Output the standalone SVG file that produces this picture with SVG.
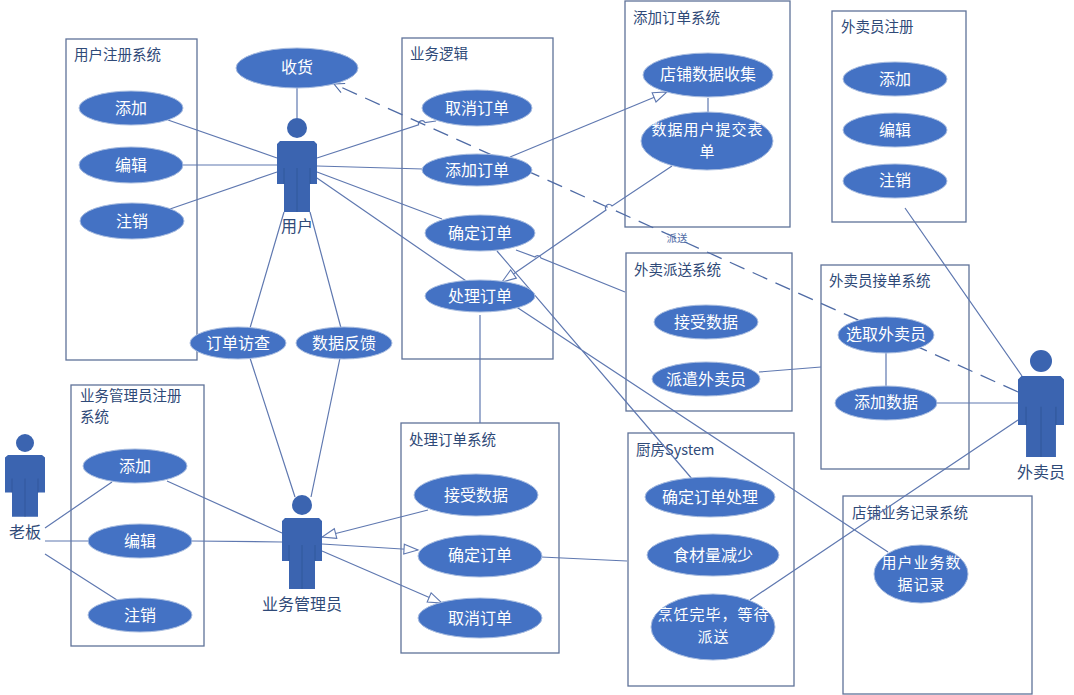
<svg xmlns="http://www.w3.org/2000/svg" width="1074" height="695" viewBox="0 0 1074 695">
<style>
text{font-family:"Noto Sans CJK SC","Noto Sans",sans-serif}
.box{fill:#fff;stroke:#5f7299;stroke-width:1.3}
.uc{fill:#4472c4;stroke:#a9bde0;stroke-width:1}
.t{fill:#fff;font-size:16px;text-anchor:middle}
.m{fill:#fff;font-size:15px;letter-spacing:1px;text-anchor:middle}
.b{fill:#2f4a78;font-size:14.500px}
.a{fill:#2f4a78;font-size:16px;text-anchor:middle}
.c{fill:none;stroke:#5f78b0;stroke-width:1.2}
.d{stroke-dasharray:16 9;stroke:#4f6ba5;stroke-width:1.3}
.actor{fill:#3b64b0}
.leg{fill:none;stroke:#2f5597;stroke-width:.8}
</style>
<defs>
<marker id="tri" markerWidth="20" markerHeight="14" refX="15" refY="6" orient="auto" markerUnits="userSpaceOnUse"><path d="M1 1L15 6L1 11Z" fill="#fff" stroke="#5f78b0" stroke-width="1.1"/></marker>
<marker id="open" markerWidth="14" markerHeight="14" refX="11" refY="6" orient="auto" markerUnits="userSpaceOnUse"><path d="M1 1L11 6L1 11" fill="none" stroke="#4f6ba5" stroke-width="1.1"/></marker>
<g id="fig"><path class="actor" d="M3 0H37L40 3V43H33V71H7V43H0V3Z"/><path class="leg" d="M7 27V43M33 27V43M20 27V71"/></g>
</defs>

<g id="sys-user"><rect class="box" x="66" y="39" width="131" height="321"/><text class="b" x="74" y="60">用户注册系统</text></g>
<g id="sys-logic"><rect class="box" x="402" y="38" width="151" height="321"/><text class="b" x="410" y="59">业务逻辑</text></g>
<g id="sys-addorder"><rect class="box" x="625" y="1" width="165" height="226"/><text class="b" x="633" y="23">添加订单系统</text></g>
<g id="sys-riderreg"><rect class="box" x="832" y="11" width="134" height="211"/><text class="b" x="841" y="32">外卖员注册</text></g>
<g id="sys-delivery"><rect class="box" x="626" y="253" width="166" height="158"/><text class="b" x="634" y="275">外卖派送系统</text></g>
<g id="sys-riderorder"><rect class="box" x="821" y="265" width="148" height="204"/><text class="b" x="829" y="286">外卖员接单系统</text></g>
<g id="sys-adminreg"><rect class="box" x="71" y="385" width="133" height="261"/><text class="b" x="80" y="401">业务管理员注册</text><text class="b" x="80" y="422">系统</text></g>
<g id="sys-process"><rect class="box" x="401" y="423" width="158" height="230"/><text class="b" x="409" y="445">处理订单系统</text></g>
<g id="sys-kitchen"><rect class="box" x="628" y="433" width="166" height="253"/><text class="b" x="636" y="455">厨房System</text></g>
<g id="sys-record"><rect class="box" x="843" y="496" width="189" height="198"/><text class="b" x="852" y="518">店铺业务记录系统</text></g>

<g id="connectors">
<path class="c" d="M297 88V118"/>
<path class="c" d="M168 120L277 158M183 165H277M170 209L277 172"/>
<path class="c" d="M317 158L418.500 124.800A3.500 3.500 0 0 1 425 122.500L436 121"/>
<path class="c" d="M317 166L423 169M317 172L442 219M317 178L472 285"/>
<path class="c" d="M284 212L250 328M310 212L341 328M250 358L295 497M340 358L311 497"/>
<path class="c d" marker-end="url(#open)" d="M1018 392L334 84"/>
<path class="c" marker-end="url(#tri)" d="M510 157L667 92"/>
<path class="c" d="M708 98V112"/>
<path class="c" marker-end="url(#tri)" d="M672 166L612 206A3.500 3.500 0 0 0 606 210L502 282"/>
<path class="c" d="M516 250L535 257A3.500 3.500 0 0 1 541 258L625 292"/>
<path class="c" d="M497 251L693 480M515 306L888 552M480 315V423"/>
<path class="c" d="M759 372L821 367M886 353V388M937 403H1018M905 208L1022 376M750 600L1018 420M541 557L627 561"/>
<path class="c" marker-end="url(#tri)" d="M428 510L322 537"/>
<path class="c" marker-end="url(#tri)" d="M322 544L418 550"/>
<path class="c" marker-end="url(#tri)" d="M322 551L442 603"/>
<path class="c" d="M167 481L282 533M192 541L282 542M45 528L112 482M45 541H88M45 554L117 600"/>
<text x="677" y="242" font-size="10.500" fill="#4f6ba5" text-anchor="middle">派送</text>
</g>

<g id="actor-user"><circle class="actor" cx="297" cy="128" r="10"/><use href="#fig" x="277" y="141"/><text class="a" x="297" y="232">用户</text></g>
<g id="actor-admin"><circle class="actor" cx="302" cy="505" r="10"/><use href="#fig" x="282" y="518"/><text class="a" x="302" y="610">业务管理员</text></g>
<g id="actor-boss"><circle class="actor" cx="25" cy="443" r="9"/><use href="#fig" transform="translate(5 455) scale(1 .87)"/><text class="a" x="25" y="538">老板</text></g>
<g id="actor-rider"><circle class="actor" cx="1041" cy="361" r="11"/><use href="#fig" transform="translate(1018 376) scale(1.150 1.140)"/><text class="a" x="1041" y="478">外卖员</text></g>

<g id="uc-receive"><ellipse class="uc" cx="297" cy="68" rx="61" ry="20"/><text class="t" x="297" y="73">收货</text></g>
<g id="uc-u-add"><ellipse class="uc" cx="131" cy="108" rx="52" ry="17"/><text class="t" x="131" y="114">添加</text></g>
<g id="uc-u-edit"><ellipse class="uc" cx="131" cy="165" rx="52" ry="18"/><text class="t" x="131" y="171">编辑</text></g>
<g id="uc-u-del"><ellipse class="uc" cx="132" cy="221" rx="52" ry="18"/><text class="t" x="132" y="227">注销</text></g>
<g id="uc-cancel"><ellipse class="uc" cx="477" cy="108" rx="55" ry="18"/><text class="t" x="477" y="114">取消订单</text></g>
<g id="uc-add"><ellipse class="uc" cx="477" cy="170" rx="55" ry="16"/><text class="t" x="477" y="176">添加订单</text></g>
<g id="uc-confirm"><ellipse class="uc" cx="480" cy="233" rx="55" ry="18"/><text class="t" x="480" y="239">确定订单</text></g>
<g id="uc-process"><ellipse class="uc" cx="480" cy="296" rx="55" ry="16"/><text class="t" x="480" y="302">处理订单</text></g>
<g id="uc-collect"><ellipse class="uc" cx="708" cy="75" rx="65" ry="22"/><text class="t" x="708" y="80">店铺数据收集</text></g>
<g id="uc-submit"><ellipse class="uc" cx="707" cy="141" rx="66" ry="29"/><text class="m" x="707.500" y="135">数据用户提交表</text><text class="m" x="707.500" y="157">单</text></g>
<g id="uc-r-add"><ellipse class="uc" cx="895" cy="79" rx="52" ry="17"/><text class="t" x="895" y="85">添加</text></g>
<g id="uc-r-edit"><ellipse class="uc" cx="895" cy="130" rx="52" ry="17"/><text class="t" x="895" y="136">编辑</text></g>
<g id="uc-r-del"><ellipse class="uc" cx="895" cy="181" rx="52" ry="17"/><text class="t" x="895" y="186">注销</text></g>
<g id="uc-d-recv"><ellipse class="uc" cx="706" cy="322" rx="52" ry="17"/><text class="t" x="706" y="328">接受数据</text></g>
<g id="uc-d-send"><ellipse class="uc" cx="706" cy="379" rx="54" ry="17"/><text class="t" x="706" y="385">派遣外卖员</text></g>
<g id="uc-pick"><ellipse class="uc" cx="886" cy="335" rx="48" ry="18"/><text class="t" x="886" y="340">选取外卖员</text></g>
<g id="uc-adddata"><ellipse class="uc" cx="886" cy="403" rx="51" ry="17"/><text class="t" x="886" y="408">添加数据</text></g>
<g id="uc-visit"><ellipse class="uc" cx="238" cy="343" rx="48" ry="16"/><text class="t" x="238" y="349">订单访查</text></g>
<g id="uc-feedback"><ellipse class="uc" cx="344" cy="343" rx="48" ry="16"/><text class="t" x="344" y="349">数据反馈</text></g>
<g id="uc-a-add"><ellipse class="uc" cx="135" cy="466" rx="52" ry="17"/><text class="t" x="135" y="472">添加</text></g>
<g id="uc-a-edit"><ellipse class="uc" cx="140" cy="541" rx="52" ry="17"/><text class="t" x="140" y="547">编辑</text></g>
<g id="uc-a-del"><ellipse class="uc" cx="140" cy="615" rx="52" ry="17"/><text class="t" x="140" y="621">注销</text></g>
<g id="uc-p-recv"><ellipse class="uc" cx="476" cy="495" rx="62" ry="21"/><text class="t" x="476" y="501">接受数据</text></g>
<g id="uc-p-confirm"><ellipse class="uc" cx="480" cy="556" rx="62" ry="21"/><text class="t" x="480" y="561">确定订单</text></g>
<g id="uc-p-cancel"><ellipse class="uc" cx="480" cy="618" rx="62" ry="20"/><text class="t" x="480" y="624">取消订单</text></g>
<g id="uc-k-confirm"><ellipse class="uc" cx="710" cy="497" rx="65" ry="20"/><text class="t" x="710" y="503">确定订单处理</text></g>
<g id="uc-k-reduce"><ellipse class="uc" cx="713" cy="555" rx="66" ry="21"/><text class="t" x="713" y="561">食材量减少</text></g>
<g id="uc-k-cook"><ellipse class="uc" cx="713" cy="627" rx="62" ry="33"/><text class="m" x="713.500" y="620">烹饪完毕，等待</text><text class="m" x="713.500" y="642">派送</text></g>
<g id="uc-record"><ellipse class="uc" cx="921" cy="574" rx="47" ry="29"/><text class="m" x="921.500" y="568">用户业务数</text><text class="m" x="921.500" y="590">据记录</text></g>
</svg>
